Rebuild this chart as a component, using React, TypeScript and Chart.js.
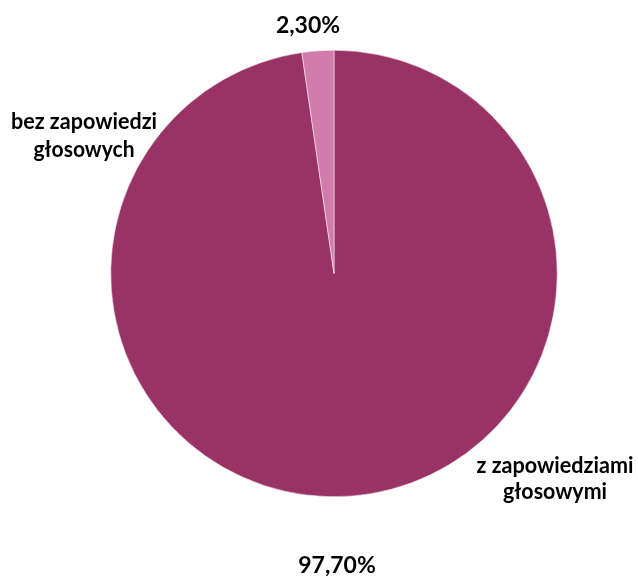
import React, { useEffect, useRef } from "react";
import { Chart, registerables } from "chart.js";

Chart.register(...registerables);

const categories = ["z zapowiedziami głosowymi", "bez zapowiedzi głosowych"];
const values = [97.7, 2.3];
const valueLabels = ["97,70%", "2,30%"];
const colors = ["#993366", "#D27CAC"];

const VALUE_FONT = "bold 23px Lato, 'Open Sans', sans-serif";
const CAT_FONT = "bold 22px Lato, 'Open Sans', sans-serif";

const labelPlugin = {
  id: "pieLabels",
  afterDraw(chart: any) {
    const meta = chart.getDatasetMeta(0);
    const arc = meta.data[0];
    if (!arc) return;
    const cx = arc.x;
    const cy = arc.y;
    const ctx = chart.ctx;
    ctx.save();
    ctx.fillStyle = "#000";
    ctx.textAlign = "center";
    ctx.textBaseline = "alphabetic";
    // value labels
    ctx.font = VALUE_FONT;
    ctx.fillText(valueLabels[1], cx - 26, cy - 240.5);
    ctx.fillText(valueLabels[0], cx + 3, cy + 299.5);
    // category labels
    ctx.font = CAT_FONT;
    const left = ["bez zapowiedzi", "głosowych"];
    ctx.fillText(left[0], cx - 250, cy - 144.5, 146);
    ctx.fillText(left[1], cx - 250, cy - 116.5, 101);
    const right = ["z zapowiedziami", "głosowymi"];
    ctx.fillText(right[0], cx + 221, cy + 199, 157);
    ctx.fillText(right[1], cx + 221, cy + 225, 104);
    ctx.restore();
  },
};

export default function App() {
  const ref = useRef<HTMLCanvasElement | null>(null);
  useEffect(() => {
    document.body.style.margin = "0";
    const canvas = ref.current!;
    const chart = new Chart(canvas, {
      type: "pie",
      data: {
        labels: categories,
        datasets: [
          {
            data: values,
            backgroundColor: colors,
            borderColor: "#ffffff",
            borderWidth: 0.5,
          },
        ],
      },
      options: {
        responsive: false,
        animation: false,
        layout: { padding: { left: 110, right: 80, top: 50, bottom: 81 } },
        plugins: {
          legend: { display: false },
          tooltip: { enabled: false },
        },
      },
      plugins: [labelPlugin],
    });
    return () => chart.destroy();
  }, []);
  return (
    <div style={{ width: 638, height: 578, background: "#fff" }}>
      <canvas ref={ref} width={638} height={578} />
    </div>
  );
}
